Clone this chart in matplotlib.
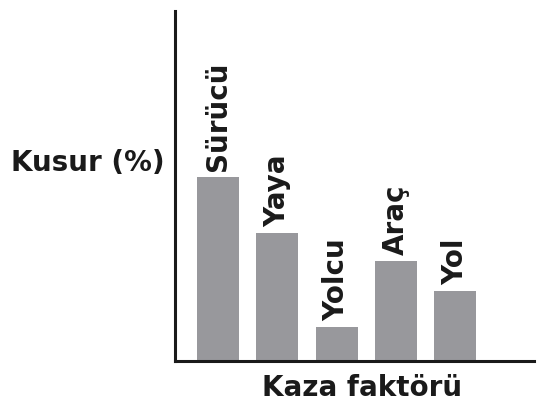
import numpy as np
import matplotlib.pyplot as plt

# Kaza faktörleri ve kusur oranlari (resimden okunan yaklasik degerler)
faktorler = ['Sürücü', 'Yaya', 'Yolcu', 'Araç', 'Yol']
kusur = [52.6, 36.6, 9.7, 28.6, 20.0]

plt.rcParams['font.family'] = ['DejaVu Sans']

fig = plt.figure(figsize=(5.45, 4.1), dpi=100)
W, H = 545, 410
ax = fig.add_axes([175 / W, 1 - 362 / H, (534 - 175) / W, (362 - 12) / H])

x = np.arange(len(faktorler))
bars = ax.bar(x, kusur, width=0.71, color='#98989c', edgecolor='none')

for xi, v, lab in zip(x, kusur, faktorler):
    ax.annotate(lab, (xi, v), xytext=(0, 5), textcoords='offset points',
                rotation=90, ha='center', va='bottom',
                fontsize=20, fontweight='bold', color='#1a1a1a')

ax.set_xlim(-0.726, 5.33)
ax.set_ylim(0, 100)
ax.set_xticks([])
ax.set_yticks([])
for s in ['top', 'right']:
    ax.spines[s].set_visible(False)
for s in ['left', 'bottom']:
    ax.spines[s].set_linewidth(2.2)
    ax.spines[s].set_color('#1a1a1a')

fig.text(165 / W, 1 - 163 / H, 'Kusur (%)', ha='right', va='center',
         fontsize=20, fontweight='bold', color='#1a1a1a')
fig.text(362 / W, 1 - 388 / H, 'Kaza faktörü', ha='center', va='center',
         fontsize=20, fontweight='bold', color='#1a1a1a')

plt.savefig('out.png', dpi=100)
